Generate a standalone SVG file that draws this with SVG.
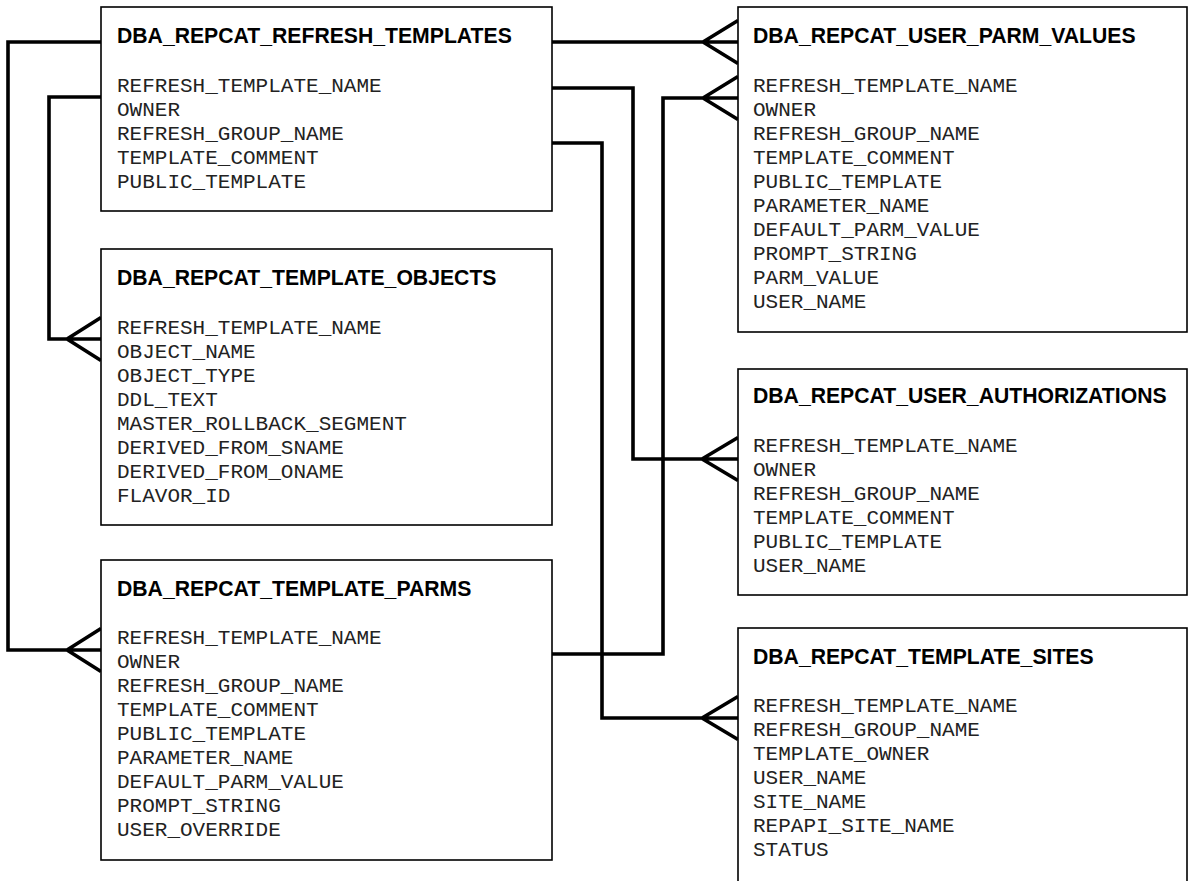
<svg xmlns="http://www.w3.org/2000/svg" width="1191" height="881" viewBox="0 0 1191 881">
<style>
.box{fill:#fff;stroke:#000;stroke-width:1.6}
.t{font-family:"Liberation Sans",Arial,sans-serif;font-weight:bold;font-size:21.2px;fill:#000}
.f{font-family:"Liberation Mono","Courier New",monospace;font-size:21px;fill:#222}
.c{fill:none;stroke:#000;stroke-width:3.6;stroke-linejoin:miter;stroke-linecap:butt}
</style>
<g id="connectors">
<path class="c" d="M552 42H738M703 42L738 20.5M703 42L738 63.5"/>
<path class="c" d="M101 42H8V650H101M67 650L101 628.5M67 650L101 671.5"/>
<path class="c" d="M101 97H49V339H101M67 339L101 317.5M67 339L101 360.5"/>
<path class="c" d="M552 88H633V459H738M702 459L738 437.5M702 459L738 480.5"/>
<path class="c" d="M552 143H602V718H738M702 718L738 696.5M702 718L738 739.5"/>
<path class="c" d="M552 654H663V98H738M703 98L738 76.5M703 98L738 119.5"/>
</g>
<g id="refresh_templates">
<rect class="box" x="101" y="7" width="451" height="204"/>
<text class="t" x="117" y="43">DBA_REPCAT_REFRESH_TEMPLATES</text>
<text class="f" x="117" y="92">REFRESH_TEMPLATE_NAME</text>
<text class="f" x="117" y="116">OWNER</text>
<text class="f" x="117" y="140">REFRESH_GROUP_NAME</text>
<text class="f" x="117" y="164">TEMPLATE_COMMENT</text>
<text class="f" x="117" y="188">PUBLIC_TEMPLATE</text>
</g>
<g id="template_objects">
<rect class="box" x="101" y="249" width="451" height="276"/>
<text class="t" x="117" y="285">DBA_REPCAT_TEMPLATE_OBJECTS</text>
<text class="f" x="117" y="334">REFRESH_TEMPLATE_NAME</text>
<text class="f" x="117" y="358">OBJECT_NAME</text>
<text class="f" x="117" y="382">OBJECT_TYPE</text>
<text class="f" x="117" y="406">DDL_TEXT</text>
<text class="f" x="117" y="430">MASTER_ROLLBACK_SEGMENT</text>
<text class="f" x="117" y="454">DERIVED_FROM_SNAME</text>
<text class="f" x="117" y="478">DERIVED_FROM_ONAME</text>
<text class="f" x="117" y="502">FLAVOR_ID</text>
</g>
<g id="template_parms">
<rect class="box" x="101" y="560" width="451" height="300"/>
<text class="t" x="117" y="596">DBA_REPCAT_TEMPLATE_PARMS</text>
<text class="f" x="117" y="644">REFRESH_TEMPLATE_NAME</text>
<text class="f" x="117" y="668">OWNER</text>
<text class="f" x="117" y="692">REFRESH_GROUP_NAME</text>
<text class="f" x="117" y="716">TEMPLATE_COMMENT</text>
<text class="f" x="117" y="740">PUBLIC_TEMPLATE</text>
<text class="f" x="117" y="764">PARAMETER_NAME</text>
<text class="f" x="117" y="788">DEFAULT_PARM_VALUE</text>
<text class="f" x="117" y="812">PROMPT_STRING</text>
<text class="f" x="117" y="836">USER_OVERRIDE</text>
</g>
<g id="user_parm_values">
<rect class="box" x="738" y="7" width="449" height="325"/>
<text class="t" x="753" y="43">DBA_REPCAT_USER_PARM_VALUES</text>
<text class="f" x="753" y="92">REFRESH_TEMPLATE_NAME</text>
<text class="f" x="753" y="116">OWNER</text>
<text class="f" x="753" y="140">REFRESH_GROUP_NAME</text>
<text class="f" x="753" y="164">TEMPLATE_COMMENT</text>
<text class="f" x="753" y="188">PUBLIC_TEMPLATE</text>
<text class="f" x="753" y="212">PARAMETER_NAME</text>
<text class="f" x="753" y="236">DEFAULT_PARM_VALUE</text>
<text class="f" x="753" y="260">PROMPT_STRING</text>
<text class="f" x="753" y="284">PARM_VALUE</text>
<text class="f" x="753" y="308">USER_NAME</text>
</g>
<g id="user_authorizations">
<rect class="box" x="738" y="369" width="449" height="226"/>
<text class="t" x="753" y="403">DBA_REPCAT_USER_AUTHORIZATIONS</text>
<text class="f" x="753" y="452">REFRESH_TEMPLATE_NAME</text>
<text class="f" x="753" y="476">OWNER</text>
<text class="f" x="753" y="500">REFRESH_GROUP_NAME</text>
<text class="f" x="753" y="524">TEMPLATE_COMMENT</text>
<text class="f" x="753" y="548">PUBLIC_TEMPLATE</text>
<text class="f" x="753" y="572">USER_NAME</text>
</g>
<g id="template_sites">
<rect class="box" x="738" y="628" width="449" height="270"/>
<text class="t" x="753" y="664">DBA_REPCAT_TEMPLATE_SITES</text>
<text class="f" x="753" y="712">REFRESH_TEMPLATE_NAME</text>
<text class="f" x="753" y="736">REFRESH_GROUP_NAME</text>
<text class="f" x="753" y="760">TEMPLATE_OWNER</text>
<text class="f" x="753" y="784">USER_NAME</text>
<text class="f" x="753" y="808">SITE_NAME</text>
<text class="f" x="753" y="832">REPAPI_SITE_NAME</text>
<text class="f" x="753" y="856">STATUS</text>
</g>
</svg>
